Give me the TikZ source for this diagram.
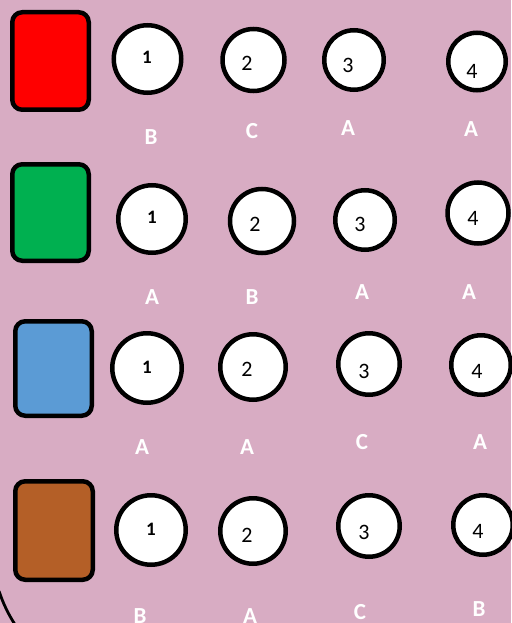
\documentclass[tikz,border=0pt]{standalone}
\usepackage{fontspec}
\setmainfont{Carlito}
\definecolor{bgpink}{HTML}{D8ACC3}
\definecolor{cred}{HTML}{FF0000}
\definecolor{cgreen}{HTML}{00B050}
\definecolor{cblue}{HTML}{5B9BD5}
\definecolor{cbrown}{HTML}{B45F27}
\begin{document}
\begin{tikzpicture}[x=1pt,y=-1pt,
  box/.style={draw=black,line width=4.5pt,rounded corners=10pt,minimum width=76.5pt,minimum height=97pt,inner sep=0pt},
  ring/.style={circle,draw=black,fill=white,line width=4.5pt,inner sep=0pt},
  dig/.style={inner sep=0pt,font=\fontsize{22}{22}\selectfont},
  dsmall/.style={inner sep=0pt,font=\bfseries\fontsize{19}{19}\selectfont},
  lab/.style={inner sep=0pt,text=white,font=\bfseries\fontsize{23}{23}\selectfont}]
\fill[bgpink] (0,0) rectangle (511,623);
\useasboundingbox (0,0) rectangle (511,623);
\draw[line width=2.8pt] (-1,591) .. controls (3,603) and (8,614) .. (16,626);
% boxes
\node[box,fill=cred,minimum height=97.5pt] (bx1) at (50.5,61) {};
\node[box,fill=cgreen,minimum height=96.5pt] (bx2) at (50.5,212.5) {};
\node[box,fill=cblue,minimum height=94.5pt] (bx3) at (53.5,368.5) {};
\node[box,fill=cbrown,minimum width=77.5pt,minimum height=98.5pt] (bx4) at (54,530.5) {};
% row 1
\node[ring,minimum size=67.5pt] (c11) at (147.5,59) {};
\node[ring,minimum size=62pt] (c12) at (253.5,60) {};
\node[ring,minimum size=59.5pt] (c13) at (354,60) {};
\node[ring,minimum size=57.5pt] (c14) at (477,61.5) {};
\node[dsmall] (d11) at (147,57) {1};
\node[dig] (d12) at (247,63) {2};
\node[dig] (d13) at (348,65) {3};
\node[dig] (d14) at (472,71) {4};
\node[lab] (l11) at (151,137) {B};
\node[lab] (l12) at (252,131) {C};
\node[lab] (l13) at (348,128) {A};
\node[lab] (l14) at (471,129) {A};
% row 2
\node[ring,minimum size=67.5pt] (c21) at (152,219) {};
\node[ring,minimum size=64pt] (c22) at (262,221) {};
\node[ring,minimum size=59.5pt] (c23) at (365,220) {};
\node[ring,minimum size=61pt] (c24) at (478,213) {};
\node[dsmall] (d21) at (152,217) {1};
\node[dig] (d22) at (255,224) {2};
\node[dig] (d23) at (360,224) {3};
\node[dig] (d24) at (473,218) {4};
\node[lab] (l21) at (152,297) {A};
\node[lab] (l22) at (252,297) {B};
\node[lab] (l23) at (362,292) {A};
\node[lab] (l24) at (469,292) {A};
% row 3
\node[ring,minimum size=69.5pt] (c31) at (147,368) {};
\node[ring,minimum size=65.5pt] (c32) at (253,367) {};
\node[ring,minimum size=61.5pt] (c33) at (369,364) {};
\node[ring,minimum size=59.5pt] (c34) at (481,365) {};
\node[dsmall] (d31) at (147,367) {1};
\node[dig] (d32) at (247,369) {2};
\node[dig] (d33) at (364,371) {3};
\node[dig] (d34) at (477,371) {4};
\node[lab] (l31) at (142,447) {A};
\node[lab] (l32) at (247,447) {A};
\node[lab] (l33) at (362,442) {C};
\node[lab] (l34) at (480,442) {A};
% row 4
\node[ring,minimum size=69.5pt] (c41) at (151,530) {};
\node[ring,minimum size=65.5pt] (c42) at (253,531) {};
\node[ring,minimum size=61.5pt] (c43) at (369,526) {};
\node[ring,minimum size=59.5pt] (c44) at (483,525) {};
\node[dsmall] (d41) at (151,529) {1};
\node[dig] (d42) at (247,535) {2};
\node[dig] (d43) at (364,532) {3};
\node[dig] (d44) at (478,531) {4};
\node[lab] (l41) at (140,616) {B};
\node[lab] (l42) at (250,616) {A};
\node[lab] (l43) at (360,612) {C};
\node[lab] (l44) at (479,609) {B};
\end{tikzpicture}
\end{document}
